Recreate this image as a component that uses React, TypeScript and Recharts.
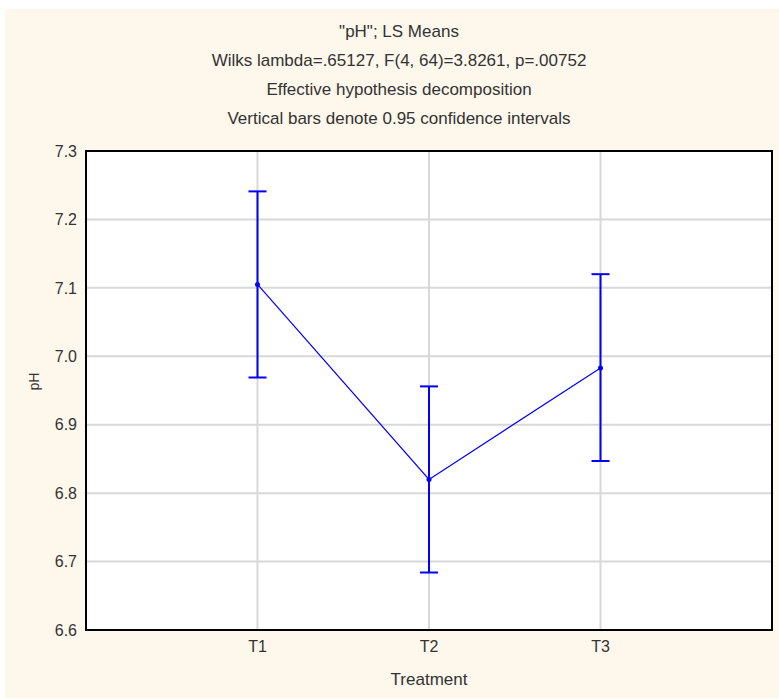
import {
  ComposedChart,
  Line,
  XAxis,
  YAxis,
  CartesianGrid,
  ErrorBar,
  ReferenceArea,
} from 'recharts'

// LS means of pH per treatment with 0.95 confidence limits
const treatments = ['T1', 'T2', 'T3']
const means = [7.105, 6.82, 6.983]
const lower = [6.969, 6.684, 6.847]
const upper = [7.241, 6.956, 7.12]
const yTicks = [6.6, 6.7, 6.8, 6.9, 7.0, 7.1, 7.2, 7.3]
const titleLines = [
  '"pH"; LS Means',
  'Wilks lambda=.65127, F(4, 64)=3.8261, p=.00752',
  'Effective hypothesis decomposition',
  'Vertical bars denote 0.95 confidence intervals',
]

const FONT = '"Liberation Sans", Arial, sans-serif'
const TEXT = '#333'
const BLUE = '#0000ff'

const data = treatments.map((name, i) => ({
  x: i + 1,
  name,
  mean: means[i],
  err: [means[i] - lower[i], upper[i] - means[i]],
}))

export default function App() {
  return (
    <div style={{ position: 'absolute', left: 0, top: 0, width: 779, height: 700, background: '#fff', fontFamily: FONT }}>
      <div style={{ position: 'absolute', left: 5, top: 9, width: 774, height: 689, background: '#fdf7ec' }} />
      {titleLines.map((t, i) => (
        <div
          key={t}
          style={{
            position: 'absolute',
            left: 0,
            width: 798,
            top: 22 + i * 29,
            textAlign: 'center',
            fontSize: 17,
            color: TEXT,
            lineHeight: '20px',
            whiteSpace: 'nowrap',
          }}
        >
          {t}
        </div>
      ))}
      <div style={{ position: 'absolute', left: 0, top: 0 }}>
        <ComposedChart width={779} height={700} data={data} margin={{ top: 151, left: 36, right: 7, bottom: 10 }}>
          <CartesianGrid fill="#fff" stroke="#d8d8d8" strokeWidth={2} />
          <XAxis
            type="number"
            dataKey="x"
            domain={[0, 4]}
            ticks={[1, 2, 3]}
            tickFormatter={(v: number) => treatments[v - 1] ?? ''}
            height={60}
            tickSize={4}
            tickMargin={7}
            tickLine={false}
            axisLine={{ stroke: '#000', strokeWidth: 2 }}
            tick={{ fill: TEXT, fontSize: 16, fontFamily: FONT }}
            label={{ value: 'Treatment', position: 'insideBottom', offset: 5, fill: TEXT, fontSize: 17, fontFamily: FONT }}
          />
          <YAxis
            type="number"
            domain={[6.6, 7.3]}
            ticks={yTicks}
            tickFormatter={(v: number) => v.toFixed(1)}
            width={50}
            tickSize={4}
            tickMargin={5}
            tickLine={false}
            axisLine={{ stroke: '#000', strokeWidth: 2 }}
            tick={{ fill: TEXT, fontSize: 16, fontFamily: FONT }}
            label={{ value: 'pH', angle: -90, position: 'insideLeft', offset: -2, fill: TEXT, fontSize: 14, fontFamily: FONT }}
          />
          <ReferenceArea x1={0} x2={4} y1={6.6} y2={7.3} fill="none" stroke="#000" strokeWidth={2} ifOverflow="visible" />
          <Line
            dataKey="mean"
            stroke={BLUE}
            strokeWidth={1.2}
            dot={{ r: 2.5, fill: BLUE, stroke: BLUE, strokeWidth: 0 }}
            activeDot={false}
            isAnimationActive={false}
          >
            <ErrorBar dataKey="err" direction="y" width={9} stroke={BLUE} strokeWidth={2} isAnimationActive={false} />
          </Line>
        </ComposedChart>
      </div>
    </div>
  )
}
